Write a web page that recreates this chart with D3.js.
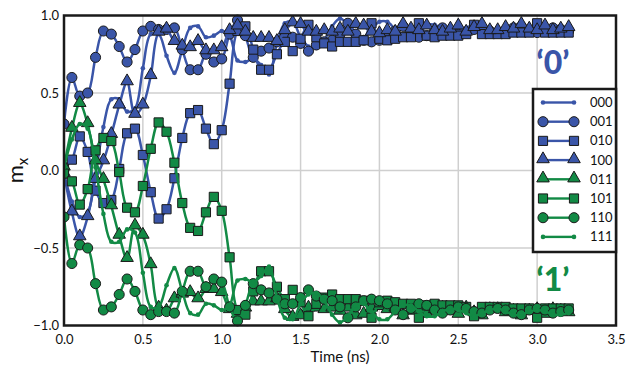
<!DOCTYPE html>
<html><head><meta charset="utf-8">
<script src="https://cdn.jsdelivr.net/npm/d3@7/dist/d3.min.js"></script>
<style>body{margin:0;background:#fff}svg{display:block}</style></head>
<body><svg id="c" width="631" height="369"></svg>
<script>
const times = [0,0.05,0.1,0.15,0.2,0.25,0.3,0.35,0.4,0.45,0.5,0.55,0.6,0.65,0.7,0.75,0.8,0.85,0.9,0.95,1.0,1.05,1.1,1.15,1.2,1.25,1.3,1.35,1.4,1.45,1.5,1.55,1.6,1.65,1.7,1.75,1.8,1.85,1.9,1.95,2.0,2.05,2.1,2.15,2.2,2.25,2.3,2.35,2.4,2.45,2.5,2.55,2.6,2.65,2.7,2.75,2.8,2.85,2.9,2.95,3.0,3.05,3.1,3.15,3.2];

const s000 = [-0.02,-0.20,-0.30,-0.27,-0.02,0.28,0.46,0.46,0.38,0.40,0.66,0.88,0.88,0.74,0.63,0.78,0.92,0.93,0.86,0.87,0.90,0.87,0.71,0.70,0.72,0.68,0.62,0.82,0.95,0.96,0.86,0.80,0.79,0.84,0.93,0.98,0.94,0.87,0.86,0.91,0.96,0.96,0.91,0.87,0.87,0.91,0.94,0.94,0.91,0.89,0.90,0.92,0.94,0.92,0.90,0.89,0.91,0.93,0.93,0.91,0.90,0.91,0.93,0.93,0.92];
const s001 = [0.30,0.60,0.48,0.50,0.73,0.90,0.88,0.80,0.70,0.78,0.90,0.93,0.91,0.91,0.92,0.78,0.65,0.65,0.75,0.70,0.72,0.88,0.97,0.87,0.73,0.77,0.79,0.83,0.86,0.86,0.82,0.77,0.81,0.83,0.84,0.88,0.95,0.88,0.84,0.83,0.84,0.86,0.90,0.93,0.89,0.86,0.87,0.90,0.92,0.90,0.88,0.89,0.91,0.92,0.90,0.89,0.90,0.92,0.93,0.90,0.89,0.90,0.92,0.91,0.90];
const s010 = [0.02,0.07,0.22,0.12,-0.13,-0.21,-0.19,0.01,0.24,0.27,0.10,-0.14,-0.31,-0.25,-0.05,0.21,0.37,0.39,0.27,0.17,0.26,0.56,0.90,0.93,0.78,0.65,0.65,0.75,0.83,0.77,0.85,0.94,0.86,0.82,0.80,0.83,0.83,0.83,0.84,0.95,0.85,0.84,0.85,0.86,0.86,0.95,0.87,0.86,0.87,0.87,0.87,0.88,0.94,0.88,0.88,0.88,0.88,0.89,0.89,0.89,0.95,0.89,0.89,0.89,0.89];
const s100 = [-0.02,-0.27,-0.43,-0.30,-0.06,0.06,0.23,0.42,0.57,0.36,0.42,0.61,0.89,0.91,0.83,0.80,0.79,0.83,0.77,0.77,0.79,0.90,0.93,0.89,0.85,0.85,0.85,0.83,0.90,0.95,0.94,0.89,0.89,0.90,0.89,0.91,0.89,0.94,0.93,0.89,0.88,0.90,0.89,0.94,0.91,0.90,0.93,0.90,0.89,0.91,0.93,0.89,0.92,0.94,0.90,0.90,0.92,0.91,0.94,0.91,0.90,0.93,0.90,0.91,0.92];
const s011 = [0.02,0.27,0.43,0.30,0.06,-0.06,-0.23,-0.42,-0.57,-0.36,-0.42,-0.61,-0.89,-0.91,-0.83,-0.80,-0.79,-0.83,-0.77,-0.77,-0.79,-0.90,-0.93,-0.89,-0.85,-0.85,-0.85,-0.83,-0.90,-0.95,-0.94,-0.89,-0.89,-0.90,-0.89,-0.91,-0.89,-0.94,-0.93,-0.89,-0.88,-0.90,-0.89,-0.94,-0.91,-0.90,-0.93,-0.90,-0.89,-0.91,-0.93,-0.89,-0.92,-0.94,-0.90,-0.90,-0.92,-0.91,-0.94,-0.91,-0.90,-0.93,-0.90,-0.91,-0.92];
const s101 = [-0.02,-0.07,-0.22,-0.12,0.13,0.21,0.19,-0.01,-0.24,-0.27,-0.10,0.14,0.31,0.25,0.05,-0.21,-0.37,-0.39,-0.27,-0.17,-0.26,-0.56,-0.90,-0.93,-0.78,-0.65,-0.65,-0.75,-0.83,-0.77,-0.85,-0.94,-0.86,-0.82,-0.80,-0.83,-0.83,-0.83,-0.84,-0.95,-0.85,-0.84,-0.85,-0.86,-0.86,-0.95,-0.87,-0.86,-0.87,-0.87,-0.87,-0.88,-0.94,-0.88,-0.88,-0.88,-0.88,-0.89,-0.89,-0.89,-0.95,-0.89,-0.89,-0.89,-0.89];
const s110 = [-0.30,-0.60,-0.48,-0.50,-0.73,-0.90,-0.88,-0.80,-0.70,-0.78,-0.90,-0.93,-0.91,-0.91,-0.92,-0.78,-0.65,-0.65,-0.75,-0.70,-0.72,-0.88,-0.97,-0.87,-0.73,-0.77,-0.79,-0.83,-0.86,-0.86,-0.82,-0.77,-0.81,-0.83,-0.84,-0.88,-0.95,-0.88,-0.84,-0.83,-0.84,-0.86,-0.90,-0.93,-0.89,-0.86,-0.87,-0.90,-0.92,-0.90,-0.88,-0.89,-0.91,-0.92,-0.90,-0.89,-0.90,-0.92,-0.93,-0.90,-0.89,-0.90,-0.92,-0.91,-0.90];
const s111 = [0.02,0.20,0.30,0.27,0.02,-0.28,-0.46,-0.46,-0.38,-0.40,-0.66,-0.88,-0.88,-0.74,-0.63,-0.78,-0.92,-0.93,-0.86,-0.87,-0.90,-0.87,-0.71,-0.70,-0.72,-0.68,-0.62,-0.82,-0.95,-0.96,-0.86,-0.80,-0.79,-0.84,-0.93,-0.98,-0.94,-0.87,-0.86,-0.91,-0.96,-0.96,-0.91,-0.87,-0.87,-0.91,-0.94,-0.94,-0.91,-0.89,-0.90,-0.92,-0.94,-0.92,-0.90,-0.89,-0.91,-0.93,-0.93,-0.91,-0.90,-0.91,-0.93,-0.93,-0.92];

const seriesNames = ["000","001","010","100","011","101","110","111"];
const seriesValues = [s000,s001,s010,s100,s011,s101,s110,s111];
const seriesMarkers = ["dot","circle","square","triangle","triangle","square","circle","dot"];
const seriesColors = ["#3a55a8","#3a55a8","#3a55a8","#3a55a8","#128a45","#128a45","#128a45","#128a45"];
const xTicks = [0,0.5,1.0,1.5,2.0,2.5,3.0,3.5];
const yTicks = [-1.0,-0.5,0.0,0.5,1.0];
const stateLabels = ["\u20180\u2019","\u20181\u2019"];
const stateValues = [0.62,-0.78];

const FONT = "Lato, 'DejaVu Sans', sans-serif";
const m = {l:64,r:616,t:15.5,b:325.5};
const svg = d3.select("#c");
const x = d3.scaleLinear().domain([0,3.5]).range([m.l,m.r]);
const y = d3.scaleLinear().domain([-1,1]).range([m.b,m.t]);

// grid
const g = svg.append("g");
g.selectAll("line.gx").data(xTicks.slice(1,-1)).join("line")
  .attr("x1",d=>x(d)).attr("x2",d=>x(d)).attr("y1",m.t).attr("y2",m.b)
  .attr("stroke","#cfcfcf").attr("stroke-width",1.5);
g.selectAll("line.gy").data(yTicks.slice(1,-1)).join("line")
  .attr("y1",d=>y(d)).attr("y2",d=>y(d)).attr("x1",m.l).attr("x2",m.r)
  .attr("stroke","#cfcfcf").attr("stroke-width",1.5);

// axes
const xa = svg.append("g").attr("transform",`translate(0,${m.b})`)
  .call(d3.axisBottom(x).tickValues(xTicks).tickFormat(d3.format(".1f")).tickSize(0).tickPadding(9));
const ya = svg.append("g").attr("transform",`translate(${m.l},0)`)
  .call(d3.axisLeft(y).tickValues(yTicks).tickFormat(d=>d3.format(".1f")(d).replace("-","\u2212")).tickSize(0).tickPadding(5));
[xa,ya].forEach(a=>{a.select(".domain").remove();a.selectAll("text").attr("font-family",FONT).attr("font-size",13).attr("fill","#111");});

svg.append("text").attr("x",(m.l+m.r)/2).attr("y",362).attr("text-anchor","middle")
  .attr("font-family",FONT).attr("font-size",15).attr("fill","#111").text("Time (ns)");
const yl = svg.append("text").attr("transform",`translate(23,${(m.t+m.b)/2}) rotate(-90)`)
  .attr("text-anchor","middle").attr("font-family",FONT).attr("font-size",22).attr("fill","#111");
yl.append("tspan").text("m");
yl.append("tspan").attr("font-size",15).attr("dy",5).text("x");

// series
const line = d3.line().x((d,i)=>x(times[i])).y(d=>y(d)).curve(d3.curveCatmullRom.alpha(0.5));
svg.append("clipPath").attr("id","cp").append("rect")
  .attr("x",m.l).attr("y",m.t-8).attr("width",m.r-m.l).attr("height",m.b-m.t+16);
const sym = {circle:d3.symbol(d3.symbolCircle,80), square:d3.symbol(d3.symbolSquare,84), triangle:d3.symbol(d3.symbolTriangle,68)};

function drawMarker(sel,type,color){
  if(type==="dot"){
    sel.append("circle").attr("r",2.3).attr("fill",color);
  } else {
    sel.append("path").attr("d",sym[type]()).attr("fill",color).attr("stroke","#1a1a1a").attr("stroke-width",1)
      .attr("transform",type==="triangle"?"translate(0,-1)":null);
  }
}

const plot = svg.append("g").attr("clip-path","url(#cp)");
seriesValues.forEach((vals,k)=>{
  const sg = plot.append("g");
  sg.append("path").datum(vals).attr("d",line).attr("fill","none")
    .attr("stroke",seriesColors[k]).attr("stroke-width",2.5).attr("stroke-linejoin","round");
  sg.selectAll("g.m").data(vals).join("g")
    .attr("transform",(d,i)=>`translate(${x(times[i])},${y(d)})`)
    .each(function(){drawMarker(d3.select(this),seriesMarkers[k],seriesColors[k]);});
});

// frame
svg.append("rect").attr("x",m.l).attr("y",m.t).attr("width",m.r-m.l).attr("height",m.b-m.t)
  .attr("fill","none").attr("stroke","#1a1a1a").attr("stroke-width",2.5);

// state labels
svg.selectAll("text.st").data(stateLabels).join("text")
  .attr("x",553).attr("y",(d,i)=>y(stateValues[i])).attr("text-anchor","middle")
  .attr("font-family",FONT).attr("font-weight","900").attr("font-size",32)
  .attr("fill",(d,i)=>i===0?seriesColors[0]:seriesColors[4]).text(d=>d);

// legend
const lg = svg.append("g");
lg.append("rect").attr("x",533).attr("y",89).attr("width",83).attr("height",163)
  .attr("fill","#fff").attr("stroke","#1a1a1a").attr("stroke-width",2.5);
seriesNames.forEach((n,k)=>{
  const yy = 102.5 + k*19.2;
  const r = lg.append("g");
  r.append("line").attr("x1",543).attr("x2",574).attr("y1",yy).attr("y2",yy)
    .attr("stroke",seriesColors[k]).attr("stroke-width",2.4);
  [543,574].forEach(xx=>{
    const mg = r.append("g").attr("transform",`translate(${xx},${yy})`);
    drawMarker(mg,seriesMarkers[k],seriesColors[k]);
  });
  r.append("text").attr("x",590).attr("y",yy+4.5).attr("font-family",FONT).attr("font-size",13)
    .attr("fill","#111").text(n);
});
</script></body></html>
